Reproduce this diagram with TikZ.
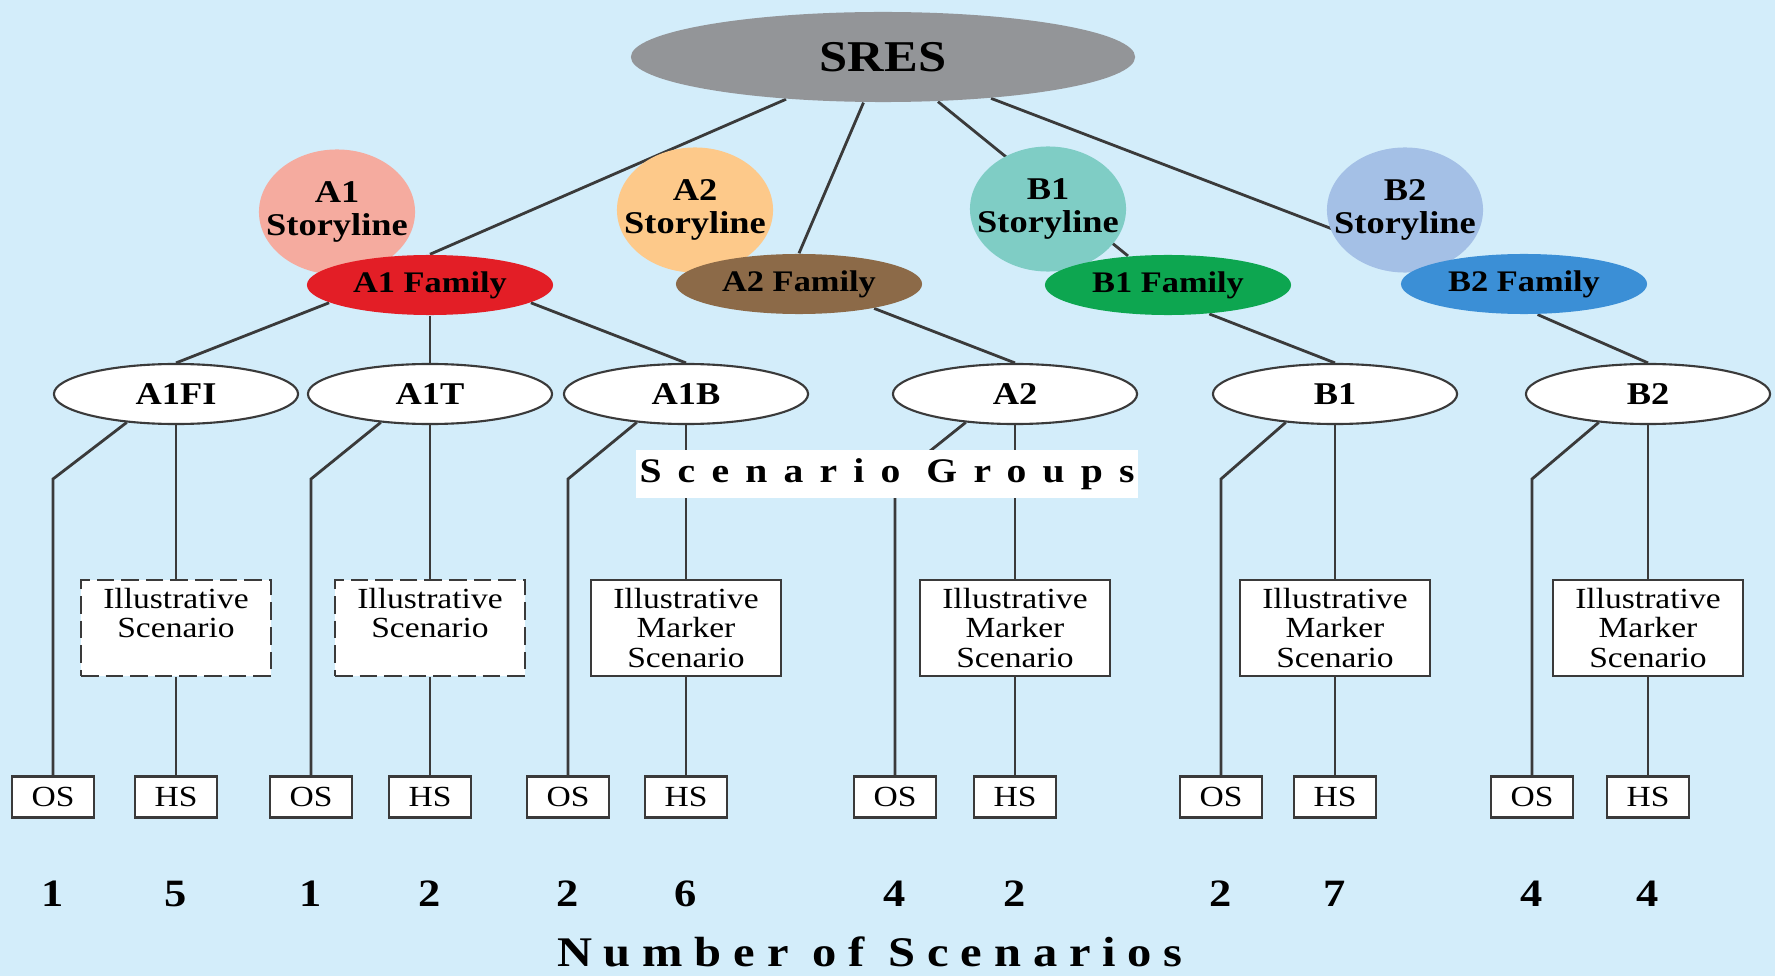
\documentclass[tikz,border=0pt]{standalone}
\usepackage{fontspec}
\setmainfont{Liberation Serif}[FakeStretch=1.15]
\newfontfamily\groupsfont{Liberation Serif}[FakeStretch=1.15,LetterSpace=47]
\newfontfamily\countsfont{Liberation Serif}[FakeStretch=1.15,LetterSpace=28]
\usetikzlibrary{positioning,shapes.geometric}
\definecolor{skyback}{HTML}{D3EDFA}
\definecolor{linegray}{HTML}{3A3A3A}
\definecolor{sresgray}{HTML}{939598}
\definecolor{aonestory}{HTML}{F5AB9F}
\definecolor{aonefam}{HTML}{E31E26}
\definecolor{atwostory}{HTML}{FDC98A}
\definecolor{atwofam}{HTML}{8C6A48}
\definecolor{bonestory}{HTML}{7FCDC5}
\definecolor{bonefam}{HTML}{0DA650}
\definecolor{btwostory}{HTML}{A4C0E6}
\definecolor{btwofam}{HTML}{3B8FD6}
\pgfdeclarelayer{bg}
\pgfdeclarelayer{edges}
\pgfsetlayers{bg,edges,main}

\begin{document}
\begin{tikzpicture}[x=0.01cm,y=-0.01cm,
  edge/.style={draw=linegray,line width=0.8pt},
  storyline/.style={ellipse,minimum width=1.56cm,minimum height=1.25cm,inner xsep=-7pt,inner ysep=0pt,align=center,font=\fontsize{9}{9.2}\selectfont\bfseries},
  family/.style={ellipse,minimum width=2.46cm,minimum height=0.6cm,inner sep=0pt,font=\fontsize{8.5}{9}\selectfont\bfseries},
  group/.style={ellipse,draw=linegray,line width=0.6pt,fill=white,minimum width=2.44cm,minimum height=0.6cm,inner sep=0pt,font=\fontsize{9}{10}\selectfont\bfseries},
  markerbox/.style={draw=linegray,line width=0.6pt,fill=white,minimum width=1.9cm,minimum height=0.96cm,inner sep=0pt,align=center,font=\fontsize{8.3}{8.4}\selectfont},
  illusbox/.style={markerbox,dash pattern=on 5pt off 2pt},
  leafbox/.style={draw=linegray,line width=0.6pt,fill=white,minimum width=0.82cm,minimum height=0.41cm,inner sep=0pt,font=\fontsize{8.3}{9}\selectfont},
  count/.style={inner sep=0pt,font=\fontsize{11}{12}\selectfont\bfseries}]
\useasboundingbox (0,0) rectangle (1775,976);
\begin{pgfonlayer}{bg}
\fill[skyback] (0,0) rectangle (1775,976);
\end{pgfonlayer}

\node[ellipse,fill=sresgray,minimum width=5.04cm,minimum height=0.9cm,inner sep=0pt,font=\fontsize{12.5}{14}\selectfont\bfseries] (sres) at (883,57) {SRES};

% storylines and families
\node[storyline,fill=aonestory] (a1story) at (337,212) {A1\\Storyline};
\node[storyline,fill=atwostory] (a2story) at (695,210) {A2\\Storyline};
\node[storyline,fill=bonestory] (b1story) at (1048,209) {B1\\Storyline};
\node[storyline,fill=btwostory] (b2story) at (1405,210) {B2\\Storyline};
\node[family,fill=aonefam] (a1fam) at (430,285) {A1 Family};
\node[family,fill=atwofam] (a2fam) at (799,284) {A2 Family};
\node[family,fill=bonefam] (b1fam) at (1168,285) {B1 Family};
\node[family,fill=btwofam] (b2fam) at (1524,284) {B2 Family};

% scenario groups
\node[group] (a1fi) at (176,394) {A1FI};
\node[group] (a1t) at (430,394) {A1T};
\node[group] (a1b) at (686,394) {A1B};
\node[group] (a2) at (1015,394) {A2};
\node[group] (b1) at (1335,394) {B1};
\node[group] (b2) at (1648,394) {B2};

\node[illusbox] (a1fibox) at (176,628) {Illustrative\\Scenario\\\phantom{Scenario}};
\node[illusbox] (a1tbox) at (430,628) {Illustrative\\Scenario\\\phantom{Scenario}};
\node[markerbox] (a1bbox) at (686,628) {Illustrative\\Marker\\Scenario};
\node[markerbox] (a2box) at (1015,628) {Illustrative\\Marker\\Scenario};
\node[markerbox] (b1box) at (1335,628) {Illustrative\\Marker\\Scenario};
\node[markerbox] (b2box) at (1648,628) {Illustrative\\Marker\\Scenario};

\node[leafbox] (os1) at (53,797) {OS};
\node[leafbox] (hs1) at (176,797) {HS};
\node[leafbox] (os2) at (311,797) {OS};
\node[leafbox] (hs2) at (430,797) {HS};
\node[leafbox] (os3) at (568,797) {OS};
\node[leafbox] (hs3) at (686,797) {HS};
\node[leafbox] (os4) at (895,797) {OS};
\node[leafbox] (hs4) at (1015,797) {HS};
\node[leafbox] (os5) at (1221,797) {OS};
\node[leafbox] (hs5) at (1335,797) {HS};
\node[leafbox] (os6) at (1532,797) {OS};
\node[leafbox] (hs6) at (1648,797) {HS};

\node[count] (c1) at (53,894) {1};
\node[count] (c2) at (176,894) {5};
\node[count] (c3) at (311,894) {1};
\node[count] (c4) at (430,894) {2};
\node[count] (c5) at (568,894) {2};
\node[count] (c6) at (686,894) {6};
\node[count] (c7) at (895,894) {4};
\node[count] (c8) at (1015,894) {2};
\node[count] (c9) at (1221,894) {2};
\node[count] (c10) at (1335,894) {7};
\node[count] (c11) at (1532,894) {4};
\node[count] (c12) at (1648,894) {4};

\node[fill=white,minimum width=5.01cm,minimum height=0.47cm,inner sep=0pt,font=\groupsfont\fontsize{9.8}{11}\selectfont\bfseries] (groupslbl) at (887,474) {Scenario Groups};
\node[inner sep=0pt,font=\countsfont\fontsize{12}{13}\selectfont\bfseries] (countslbl) at (870,952) {Number of Scenarios};

\coordinate (bend) at (0,479);
\begin{pgfonlayer}{edges}
\draw[edge] (sres) -- (a1fam.north);
\draw[edge] (sres) -- (a2fam.north);
\draw[edge] (sres) -- (b1fam.144);
\draw[edge] (sres) -- (b2fam.169);
\draw[edge] (a1fam.190) -- (a1fi.north);
\draw[edge] (a1fam.south) -- (a1t.north);
\draw[edge] (a1fam.350) -- (a1b.north);
\draw[edge] (a2fam.342) -- (a2.north);
\draw[edge] (b1fam.325) -- (b1.north);
\draw[edge] (b2fam.294) -- (b2.north);
% group to illustrative scenario and HS
\draw[edge] (a1fi.south) -- (a1fibox.north) (a1fibox.south) -- (hs1.north);
\draw[edge] (a1t.south) -- (a1tbox.north) (a1tbox.south) -- (hs2.north);
\draw[edge] (a1b.south) -- (a1bbox.north) (a1bbox.south) -- (hs3.north);
\draw[edge] (a2.south) -- (a2box.north) (a2box.south) -- (hs4.north);
\draw[edge] (b1.south) -- (b1box.north) (b1box.south) -- (hs5.north);
\draw[edge] (b2.south) -- (b2box.north) (b2box.south) -- (hs6.north);
% group to OS
\draw[edge] (a1fi.210) -- (os1.north |- bend) -- (os1.north);
\draw[edge] (a1t.210) -- (os2.north |- bend) -- (os2.north);
\draw[edge] (a1b.210) -- (os3.north |- bend) -- (os3.north);
\draw[edge] (a2.210) -- (os4.north |- bend) -- (os4.north);
\draw[edge] (b1.210) -- (os5.north |- bend) -- (os5.north);
\draw[edge] (b2.210) -- (os6.north |- bend) -- (os6.north);
\end{pgfonlayer}
\end{tikzpicture}
\end{document}
